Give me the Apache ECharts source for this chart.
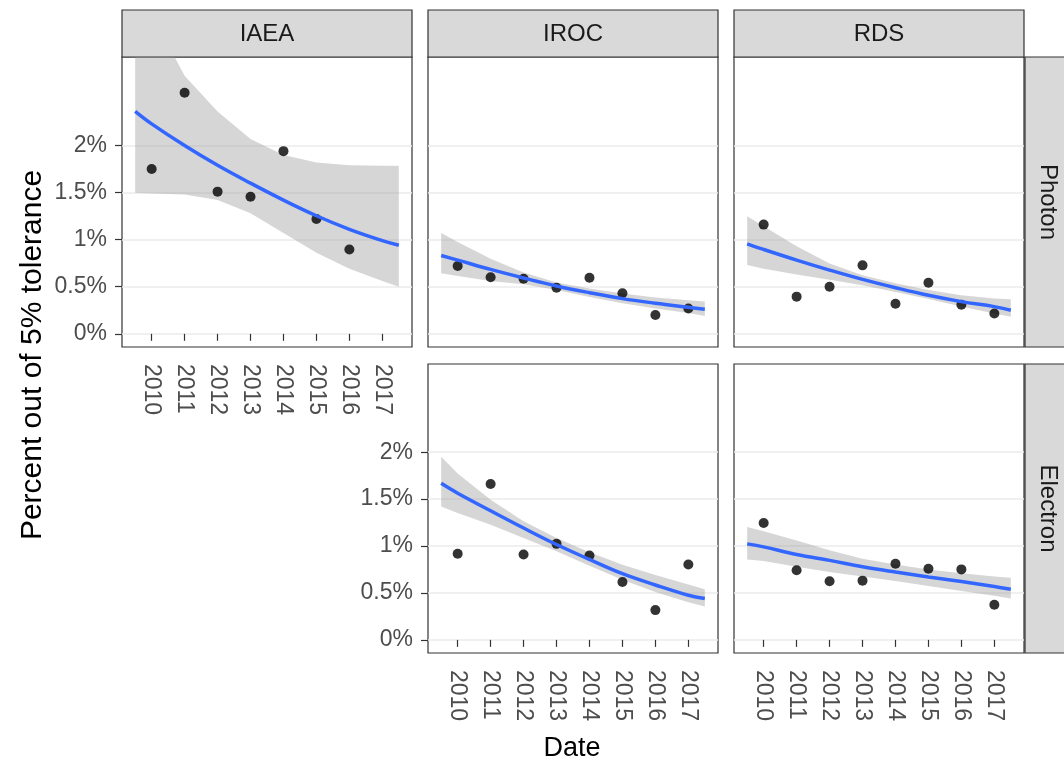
<!DOCTYPE html>
<html lang="en">
<head>
    <meta charset="utf-8">
    <title>Percent out of 5% tolerance</title>
    <script src="https://cdn.jsdelivr.net/npm/echarts@6/dist/echarts.min.js"></script>
    <style>
        html, body { margin: 0; padding: 0; background: #fff; }
    </style>
</head>
<body>
<div id="main" style="width:1064px;height:765px;"></div>
<script type="text/javascript">
    // ---- data ----
    var years = [2010, 2011, 2012, 2013, 2014, 2015, 2016, 2017];
    var fitYears = [2009.5, 2010, 2011, 2012, 2013, 2014, 2015, 2016, 2017, 2017.5];
    var pctTicks = [0, 0.5, 1, 1.5, 2];

    var columns = ['IAEA', 'IROC', 'RDS'];
    var rows = ['Photon', 'Electron'];

    // IAEA / Photon (no 2017 point)
    var iaeaPhotonPts = [1.75, 2.56, 1.51, 1.455, 1.94, 1.22, 0.895];
    var iaeaPhotonFit = [2.363, 2.23, 2.0, 1.79, 1.6, 1.42, 1.254, 1.11, 0.99, 0.94];
    var iaeaPhotonHi = [3.9, 3.4, 2.74, 2.36, 2.07, 1.9, 1.82, 1.79, 1.785, 1.785];
    var iaeaPhotonLo = [1.497, 1.49, 1.48, 1.42, 1.28, 1.07, 0.86, 0.69, 0.56, 0.5];

    // IROC / Photon
    var irocPhotonPts = [0.72, 0.6, 0.585, 0.49, 0.595, 0.43, 0.2, 0.268];
    var irocPhotonFit = [0.832, 0.783, 0.684, 0.593, 0.508, 0.437, 0.374, 0.325, 0.282, 0.261];
    var irocPhotonHi = [1.072, 0.974, 0.797, 0.652, 0.545, 0.48, 0.427, 0.385, 0.356, 0.342];
    var irocPhotonLo = [0.642, 0.614, 0.561, 0.526, 0.466, 0.39, 0.325, 0.27, 0.22, 0.19];

    // RDS / Photon
    var rdsPhotonPts = [1.16, 0.395, 0.5, 0.727, 0.32, 0.543, 0.31, 0.215];
    var rdsPhotonFit = [0.956, 0.896, 0.783, 0.677, 0.578, 0.49, 0.409, 0.342, 0.289, 0.25];
    var rdsPhotonHi = [1.249, 1.143, 0.931, 0.748, 0.621, 0.536, 0.466, 0.409, 0.374, 0.367];
    var rdsPhotonLo = [0.73, 0.69, 0.63, 0.575, 0.515, 0.445, 0.37, 0.29, 0.215, 0.18];

    // IROC / Electron
    var irocElectronPts = [0.917, 1.661, 0.91, 1.023, 0.899, 0.617, 0.317, 0.804];
    var irocElectronFit = [1.668, 1.563, 1.376, 1.192, 1.016, 0.857, 0.705, 0.585, 0.476, 0.441];
    var irocElectronHi = [1.951, 1.774, 1.492, 1.263, 1.086, 0.935, 0.8, 0.69, 0.59, 0.54];
    var irocElectronLo = [1.421, 1.351, 1.228, 1.086, 0.945, 0.79, 0.64, 0.51, 0.4, 0.356];

    // RDS / Electron
    var rdsElectronPts = [1.245, 0.741, 0.624, 0.631, 0.811, 0.758, 0.751, 0.374];
    var rdsElectronFit = [1.023, 0.991, 0.91, 0.847, 0.78, 0.723, 0.67, 0.621, 0.568, 0.54];
    var rdsElectronHi = [1.203, 1.157, 1.058, 0.956, 0.864, 0.804, 0.751, 0.709, 0.674, 0.663];
    var rdsElectronLo = [0.857, 0.84, 0.78, 0.723, 0.674, 0.628, 0.575, 0.522, 0.469, 0.441];

    // ---- layout ----
    var colLeft = [122, 428, 734];
    var rowTop = [57, 364];
    var panelW = 290, panelH = [290, 289];
    var stripSize = 47;
    var FONT = '"Liberation Sans", Arial, Helvetica, sans-serif';

    var panels = [
        { col: 0, row: 0, pts: iaeaPhotonPts, fit: iaeaPhotonFit, hi: iaeaPhotonHi, lo: iaeaPhotonLo, xLab: true, yLab: true },
        { col: 1, row: 0, pts: irocPhotonPts, fit: irocPhotonFit, hi: irocPhotonHi, lo: irocPhotonLo, xLab: false, yLab: false },
        { col: 2, row: 0, pts: rdsPhotonPts, fit: rdsPhotonFit, hi: rdsPhotonHi, lo: rdsPhotonLo, xLab: false, yLab: false },
        { col: 1, row: 1, pts: irocElectronPts, fit: irocElectronFit, hi: irocElectronHi, lo: irocElectronLo, xLab: true, yLab: true },
        { col: 2, row: 1, pts: rdsElectronPts, fit: rdsElectronFit, hi: rdsElectronHi, lo: rdsElectronLo, xLab: true, yLab: false }
    ];

    function pairs(xs, ys) {
        var out = [];
        for (var i = 0; i < ys.length; i++) out.push([xs[i], ys[i]]);
        return out;
    }

    var grids = [], xAxes = [], yAxes = [], series = [];

    panels.forEach(function (p, i) {
        grids.push({
            left: colLeft[p.col], top: rowTop[p.row], width: panelW, height: panelH[p.row],
            show: true, backgroundColor: '#ffffff', borderColor: '#333333', borderWidth: 1.2,
            containLabel: false
        });
        xAxes.push({
            type: 'value', gridIndex: i, min: 2009.1, max: 2017.9,
            axisLine: { show: false },
            axisTick: { show: p.xLab, customValues: years, length: 7, lineStyle: { color: '#333333', width: 1.2 } },
            axisLabel: {
                show: p.xLab, customValues: years, rotate: -90, margin: 17,
                fontSize: 23, fontFamily: FONT, color: '#4d4d4d',
                formatter: function (v) { return String(v); }
            },
            splitLine: { show: false }
        });
        yAxes.push({
            type: 'value', gridIndex: i, min: -0.14, max: 2.94,
            axisLine: { show: false },
            axisTick: { show: p.yLab, customValues: pctTicks, length: 7, lineStyle: { color: '#333333', width: 1.2 } },
            axisLabel: {
                show: p.yLab, customValues: pctTicks, margin: 15,
                fontSize: 23, fontFamily: FONT, color: '#4d4d4d',
                formatter: function (v) { return v + '%'; }
            },
            splitLine: { show: true, lineStyle: { color: '#ebebeb', width: 1.5 } }
        });

        series.push({
            type: 'scatter', xAxisIndex: i, yAxisIndex: i,
            data: pairs(years, p.pts), symbolSize: 10,
            itemStyle: { color: '#000000' }, silent: true
        });
        series.push({
            type: 'custom', xAxisIndex: i, yAxisIndex: i, silent: true,
            data: [[fitYears[0], p.lo[0]]],
            renderItem: function (params, api) {
                var poly = [];
                for (var k = 0; k < fitYears.length; k++) poly.push(api.coord([fitYears[k], p.hi[k]]));
                for (var j = fitYears.length - 1; j >= 0; j--) poly.push(api.coord([fitYears[j], p.lo[j]]));
                var cs = params.coordSys;
                return {
                    type: 'polygon',
                    shape: { points: poly },
                    style: { fill: 'rgba(153,153,153,0.4)' },
                    clipPath: { type: 'rect', shape: { x: cs.x, y: cs.y, width: cs.width, height: cs.height } }
                };
            }
        });
        series.push({
            type: 'line', xAxisIndex: i, yAxisIndex: i, silent: true,
            data: pairs(fitYears, p.fit), smooth: 0.4,
            showSymbol: false, symbol: 'none',
            lineStyle: { color: '#3366ff', width: 3.5 }
        });
    });

    // strips and axis titles
    var graphics = [];
    columns.forEach(function (name, c) {
        graphics.push({
            type: 'rect', shape: { x: colLeft[c], y: rowTop[0] - stripSize, width: panelW, height: stripSize },
            style: { fill: '#d9d9d9', stroke: '#333333', lineWidth: 1.2 }, silent: true
        });
        graphics.push({
            type: 'text', x: colLeft[c] + panelW / 2, y: rowTop[0] - stripSize / 2 + 1,
            style: { text: name, font: '24px ' + FONT, fill: '#1a1a1a', align: 'center', verticalAlign: 'middle' },
            silent: true
        });
    });
    rows.forEach(function (name, r) {
        var sx = colLeft[2] + panelW + 1;
        graphics.push({
            type: 'rect', shape: { x: sx, y: rowTop[r], width: stripSize, height: panelH[r] },
            style: { fill: '#d9d9d9', stroke: '#333333', lineWidth: 1.2 }, silent: true
        });
        graphics.push({
            type: 'text', x: sx + stripSize / 2 - 1, y: rowTop[r] + panelH[r] / 2, rotation: -Math.PI / 2,
            style: { text: name, font: '24px ' + FONT, fill: '#1a1a1a', align: 'center', verticalAlign: 'middle' },
            silent: true
        });
    });
    graphics.push({
        type: 'text', x: 33, y: 355, rotation: Math.PI / 2,
        style: { text: 'Percent out of 5% tolerance', font: '30px ' + FONT, fill: '#000000', align: 'center', verticalAlign: 'middle' },
        silent: true
    });
    graphics.push({
        type: 'text', x: 572, y: 749,
        style: { text: 'Date', font: '27px ' + FONT, fill: '#000000', align: 'center', verticalAlign: 'middle' },
        silent: true
    });

    var myChart = echarts.init(document.getElementById('main'));
    myChart.setOption({
        backgroundColor: '#ffffff',
        animation: false,
        grid: grids,
        xAxis: xAxes,
        yAxis: yAxes,
        series: series,
        graphic: graphics
    });
</script>
</body>
</html>
